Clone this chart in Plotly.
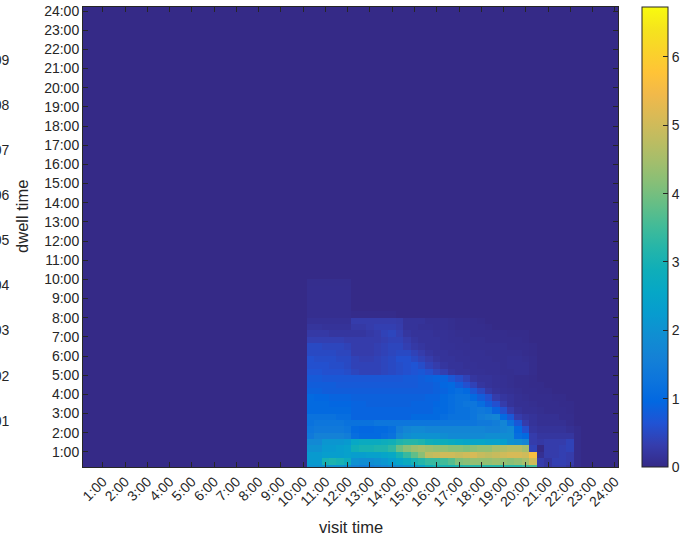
import numpy as np
import plotly.graph_objects as go

# ---------------- data ----------------
hour_ticks = list(range(1, 25))
hour_labels = ["1:00", "2:00", "3:00", "4:00", "5:00", "6:00", "7:00", "8:00",
               "9:00", "10:00", "11:00", "12:00", "13:00", "14:00", "15:00", "16:00",
               "17:00", "18:00", "19:00", "20:00", "21:00", "22:00", "23:00", "24:00"]
bins_per_hour = 3          # 20-minute bins
n_bins = 72
first_active_bin = 31      # visit-time bin where the data block starts
colorbar_ticks = [0, 1, 2, 3, 4, 5, 6]
z_max = 6.73

# stray labels at the left edge of the picture (from a neighbouring axis)
stray_labels = ["0.09", "0.08", "0.07", "0.06", "0.05", "0.04", "0.03", "0.02", "0.01"]
stray_label_px = [60, 105, 150, 195, 240, 285, 330, 376, 421]

# density per dwell-time bin (rows, from 0-20 min upwards), visit bins 31..68
dwell_rows_z = [
    [2.0,2.0,2.0,2.0,2.0,1.9, 1.6,1.5,1.5,1.6,1.7,1.8, 1.9,2.0,2.2,2.4,2.8,3.0, 3.0,3.0,3.1,3.2,3.2,3.2, 3.2,3.2,3.2,3.2,3.2,3.4, 3.5,0.3,0.2,0.3,0.3,0.2, 0.05,0.0],
    [2.2,2.2,3.0,3.1,3.0,2.8, 2.0,1.9,1.9,2.0,2.1,2.3, 2.5,2.7,3.0,3.2,3.4,3.4, 3.5,3.7,4.1,4.2,4.3,4.3, 4.3,4.4,4.3,4.2,4.3,4.5, 5.0,0.3,0.2,0.35,0.35,0.3, 0.05,0.0],
    [2.2,2.2,2.3,2.3,2.3,2.4, 2.3,2.3,2.4,2.4,2.5,2.6, 3.0,3.4,3.8,4.2,4.8,4.9, 5.0,5.0,4.9,5.0,5.1,4.9, 4.8,4.9,5.0,5.1,5.1,5.0, 5.6,0.1,0.3,0.3,0.35,0.3, 0.05,0.0],
    [2.0,2.0,2.2,2.2,2.3,2.4, 2.9,3.0,3.0,3.1,3.1,3.3, 3.9,4.2,4.4,4.5,4.4,4.3, 4.3,4.2,4.2,4.1,4.2,4.3, 4.3,4.5,4.6,4.7,4.7,4.5, 0.4,0.0,0.3,0.3,0.35,0.4, 0.05,0.0],
    [1.8,1.8,2.1,2.1,2.1,2.2, 2.6,2.7,2.7,2.7,2.8,2.9, 3.1,3.2,3.2,3.1,2.9,2.8, 2.8,2.7,2.6,2.5,2.5,2.5, 2.4,2.4,2.3,2.0,1.9,1.7, 0.3,0.25,0.3,0.3,0.3,0.4, 0.05,0.0],
    [1.4,1.6,1.6,1.6,1.6,1.5, 1.1,1.0,1.0,1.0,1.1,1.2, 1.7,1.9,2.0,2.0,2.0,2.0, 1.9,1.8,1.8,1.8,1.8,1.8, 1.9,1.9,1.9,1.9,1.1,1.0, 0.3,0.2,0.2,0.2,0.2,0.2, 0.05,0.0],
    [1.3,1.4,1.4,1.4,1.4,1.3, 1.0,0.95,0.95,1.0,1.0,1.1, 1.5,1.7,1.8,1.8,1.7,1.7, 1.7,1.7,1.7,1.7,1.7,1.7, 1.6,1.6,1.7,1.8,1.0,0.6, 0.2,0.15,0.15,0.15,0.15,0.1, 0.05,0.0],
    [1.2,1.3,1.3,1.3,1.3,1.2, 1.2,1.2,1.2,1.3,1.3,1.3, 1.3,1.3,1.3,1.3,1.3,1.3, 1.3,1.3,1.3,1.3,1.3,1.4, 1.4,1.5,1.7,1.2,0.7,0.3, 0.15,0.1,0.1,0.1,0.1,0.05, 0.0,0.0],
    [1.2,1.2,1.2,1.2,1.1,1.1, 0.9,0.9,0.9,0.9,0.9,0.9, 0.9,0.9,1.0,1.0,1.0,1.0, 1.1,1.2,1.2,1.2,1.3,1.5, 1.6,1.7,1.0,0.7,0.3,0.2, 0.15,0.1,0.1,0.1,0.05,0.05, 0.0,0.0],
    [1.0,1.0,1.0,1.0,1.0,1.0, 0.9,0.9,0.9,0.9,0.9,0.9, 0.9,0.9,0.9,0.9,0.9,1.0, 1.0,1.1,1.2,1.2,1.3,1.4, 1.3,0.9,0.6,0.3,0.15,0.1, 0.1,0.08,0.05,0.05,0.05,0.03, 0.0,0.0],
    [1.0,1.0,1.0,0.95,0.95,0.95, 0.9,0.9,0.85,0.85,0.85,0.85, 0.85,0.85,0.9,0.9,0.9,0.95, 1.0,1.1,1.2,1.3,1.3,1.1, 0.8,0.6,0.3,0.15,0.1,0.1, 0.08,0.05,0.05,0.05,0.03,0.03, 0.0,0.0],
    [1.0,0.95,0.95,0.9,0.9,0.9, 0.85,0.85,0.85,0.85,0.85,0.85, 0.85,0.85,0.85,0.85,0.9,0.9, 1.0,1.1,1.2,1.2,1.0,0.8, 0.6,0.3,0.2,0.15,0.1,0.08, 0.05,0.05,0.05,0.03,0.03,0.0, 0.0,0.0],
    [0.85,0.85,0.8,0.8,0.8,0.8, 0.8,0.8,0.8,0.8,0.8,0.8, 0.8,0.8,0.8,0.8,0.8,0.85, 0.9,1.0,1.1,1.0,0.7,0.5, 0.25,0.15,0.12,0.1,0.08,0.05, 0.05,0.03,0.03,0.0,0.0,0.0, 0.0,0.0],
    [0.8,0.8,0.8,0.8,0.75,0.75, 0.75,0.75,0.75,0.75,0.75,0.75, 0.75,0.75,0.75,0.8,0.8,0.85, 0.95,1.0,0.8,0.6,0.4,0.2, 0.15,0.12,0.1,0.08,0.05,0.05, 0.03,0.03,0.0,0.0,0.0,0.0, 0.0,0.0],
    [0.75,0.75,0.7,0.7,0.7,0.7, 0.7,0.7,0.7,0.7,0.7,0.7, 0.7,0.75,0.75,0.8,0.85,0.9, 0.9,0.7,0.55,0.4,0.2,0.15, 0.15,0.12,0.1,0.08,0.05,0.05, 0.03,0.0,0.0,0.0,0.0,0.0, 0.0,0.0],
    [0.65,0.65,0.6,0.6,0.6,0.55, 0.45,0.4,0.4,0.4,0.45,0.5, 0.55,0.6,0.65,0.7,0.6,0.45, 0.35,0.2,0.15,0.15,0.12,0.12, 0.1,0.1,0.08,0.08,0.1,0.1, 0.05,0.0,0.0,0.0,0.0,0.0, 0.0,0.0],
    [0.6,0.6,0.6,0.55,0.55,0.5, 0.4,0.4,0.4,0.4,0.45,0.5, 0.55,0.6,0.65,0.55,0.4,0.3, 0.2,0.15,0.15,0.12,0.12,0.1, 0.1,0.1,0.08,0.1,0.1,0.1, 0.05,0.0,0.0,0.0,0.0,0.0, 0.0,0.0],
    [0.6,0.55,0.55,0.55,0.5,0.5, 0.4,0.35,0.35,0.4,0.45,0.5, 0.6,0.6,0.5,0.4,0.3,0.2, 0.15,0.15,0.12,0.12,0.1,0.1, 0.1,0.08,0.08,0.1,0.1,0.08, 0.05,0.0,0.0,0.0,0.0,0.0, 0.0,0.0],
    [0.5,0.5,0.5,0.5,0.45,0.45, 0.3,0.3,0.3,0.35,0.4,0.45, 0.5,0.5,0.4,0.3,0.2,0.15, 0.15,0.12,0.12,0.1,0.1,0.1, 0.08,0.08,0.08,0.08,0.08,0.05, 0.03,0.0,0.0,0.0,0.0,0.0, 0.0,0.0],
    [0.5,0.5,0.45,0.45,0.45,0.4, 0.3,0.3,0.3,0.35,0.4,0.45, 0.45,0.35,0.25,0.2,0.15,0.15, 0.12,0.12,0.1,0.1,0.08,0.08, 0.08,0.08,0.08,0.05,0.05,0.05, 0.03,0.0,0.0,0.0,0.0,0.0, 0.0,0.0],
    [0.35,0.35,0.35,0.35,0.35,0.3, 0.3,0.3,0.3,0.3,0.35,0.4, 0.4,0.3,0.2,0.15,0.15,0.15, 0.12,0.1,0.1,0.08,0.08,0.08, 0.05,0.05,0.05,0.05,0.05,0.03],
    [0.25,0.25,0.25,0.2,0.2,0.2, 0.2,0.2,0.25,0.3,0.4,0.45, 0.35,0.2,0.15,0.15,0.15,0.12, 0.12,0.1,0.08,0.08,0.05,0.05, 0.05,0.05,0.05,0.03,0.03,0.03],
    [0.18,0.18,0.15,0.15,0.15,0.15, 0.25,0.25,0.3,0.35,0.35,0.35, 0.3,0.15,0.15,0.12,0.12,0.1, 0.1,0.08,0.05,0.05,0.05,0.05, 0.03],
    [0.12,0.12,0.12,0.12,0.12,0.12, 0.3,0.3,0.3,0.3,0.3,0.3, 0.28,0.15,0.15,0.15,0.1,0.1, 0.1,0.08,0.05,0.05,0.05,0.03],
    [0.07,0.07,0.07,0.07,0.07,0.07, 0.03,0.03,0.03,0.03,0.03,0.03],
    [0.07,0.07,0.07,0.07,0.07,0.07],
    [0.07,0.07,0.07,0.07,0.07,0.07],
    [0.07,0.07,0.07,0.07,0.07,0.07],
    [0.07,0.07,0.07,0.07,0.07,0.07],
    [0.06,0.06,0.06,0.06,0.06,0.06],
]

# MATLAB parula colormap (sampled)
parula_rgb = [
    (0.2081, 0.1663, 0.5292), (0.2081, 0.2386, 0.6771), (0.1253, 0.3242, 0.8303),
    (0.0060, 0.4086, 0.8828), (0.0498, 0.4586, 0.8641), (0.0779, 0.5040, 0.8384),
    (0.0641, 0.5570, 0.8240), (0.0265, 0.6137, 0.8135), (0.0228, 0.6535, 0.7768),
    (0.0590, 0.6838, 0.7254), (0.1453, 0.7098, 0.6646), (0.2586, 0.7317, 0.5954),
    (0.3953, 0.7459, 0.5244), (0.5300, 0.7491, 0.4661), (0.6473, 0.7456, 0.4188),
    (0.7525, 0.7384, 0.3768), (0.8507, 0.7299, 0.3360), (0.9450, 0.7261, 0.2886),
    (0.9990, 0.7653, 0.2164), (0.9789, 0.8271, 0.1633), (0.9589, 0.8949, 0.1132),
    (0.9763, 0.9831, 0.0538),
]
parula_pos = [0, 3, 6, 9, 12, 15, 18, 21, 24, 27, 30, 33, 36, 39, 42, 45, 48, 51, 54, 57, 60, 63]

# ---------------- build ----------------
colorscale = [[p / 63, "rgb(%d,%d,%d)" % tuple(round(c * 255) for c in rgb)]
              for p, rgb in zip(parula_pos, parula_rgb)]

x_centers = np.arange(1, n_bins + 1) / bins_per_hour          # visit bins
y_centers = (np.arange(1, n_bins + 1) - 0.5) / bins_per_hour  # dwell bins
z = np.zeros((n_bins, n_bins))
for i, row in enumerate(dwell_rows_z):
    c0 = first_active_bin - 1
    z[i, c0:c0 + len(row)] = row

ink = "#262626"
font_family = "Liberation Sans, Arial, Helvetica, sans-serif"

fig = go.Figure()
fig.add_trace(go.Heatmap(
    x=x_centers, y=y_centers, z=z,
    colorscale=colorscale, zmin=0, zmax=z_max, zsmooth=False,
    colorbar=dict(
        x=1.0455, xanchor="left", xpad=0, y=0.5, yanchor="middle", ypad=0,
        len=1, lenmode="fraction", thickness=26, thicknessmode="pixels",
        outlinewidth=1, outlinecolor=ink,
        tickvals=colorbar_ticks, ticks="inside", ticklen=5, tickcolor=ink,
        tickfont=dict(family=font_family, size=14, color=ink),
    ),
    hoverinfo="skip",
))

axis_common = dict(
    tickvals=hour_ticks, ticktext=hour_labels,
    ticks="inside", ticklen=5, tickcolor=ink, showline=True, linecolor=ink,
    linewidth=1, mirror="ticks", showgrid=False, zeroline=False, automargin=False,
    tickfont=dict(family=font_family, size=14, color=ink),
)
fig.update_xaxes(**axis_common, tickangle=-45, range=[0.11, 24.14])
fig.update_yaxes(**axis_common, range=[0.21, 24.21])

plot_l, plot_r, plot_t, plot_b = 83, 617.7, 7, 467
pw, ph = plot_r - plot_l, plot_b - plot_t

annotations = [
    dict(text="visit time", x=0.5, y=(plot_b - 527) / ph, xref="paper", yref="paper",
         xanchor="center", yanchor="middle", showarrow=False,
         font=dict(family=font_family, size=16.5, color=ink)),
    dict(text="dwell time", x=(22 - plot_l) / pw, y=(plot_b - 216) / ph, xref="paper",
         yref="paper", xanchor="center", yanchor="middle", textangle=-90, showarrow=False,
         font=dict(family=font_family, size=16.5, color=ink)),
]
for lab, ypx in zip(stray_labels, stray_label_px):
    annotations.append(dict(text=lab, x=(11 - plot_l) / pw, y=(plot_b - ypx) / ph,
                            xref="paper", yref="paper", xanchor="right", yanchor="middle",
                            showarrow=False,
                            font=dict(family=font_family, size=14, color=ink)))

fig.update_layout(
    width=696, height=541,
    margin=dict(l=plot_l, r=696 - plot_r, t=plot_t, b=541 - plot_b, pad=0),
    paper_bgcolor="white", plot_bgcolor="rgb(53,42,135)",
    showlegend=False, annotations=annotations,
)

fig.write_html("out.html", config={"displayModeBar": False},
               post_script="document.body.style.margin='0px';")
